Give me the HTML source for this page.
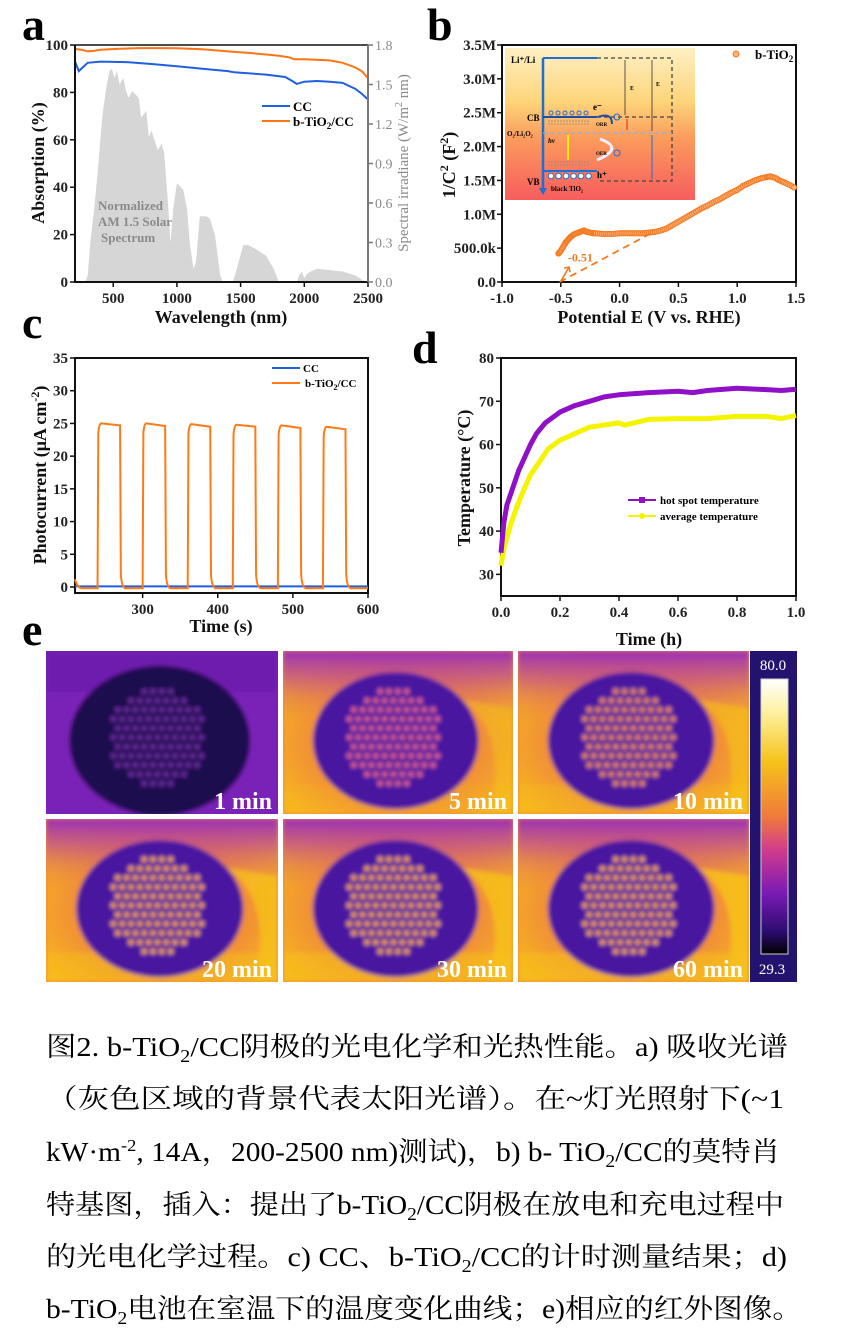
<!DOCTYPE html>
<html><head><meta charset="utf-8"><style>
html,body{margin:0;padding:0;background:#fff;}
svg{display:block;}
text{font-family:"Liberation Serif","Noto Serif CJK SC",serif;}
.cap{font-family:"Liberation Serif","Noto Serif CJK SC","Noto Sans CJK SC",serif;font-size:27px;fill:#000;}
.tk{font-size:15px;font-weight:bold;fill:#222;}
.tt{font-size:18px;font-weight:bold;fill:#111;}
.lt{font-size:46px;font-weight:bold;fill:#000;}
</style></head><body>
<svg id="fig" width="842" height="1342" viewBox="0 0 842 1342" xmlns="http://www.w3.org/2000/svg">
<defs>
<filter id="blurF" x="-5%" y="-5%" width="110%" height="110%"><feGaussianBlur stdDeviation="2.2"/></filter>
<linearGradient id="insetGrad" x1="0" y1="0" x2="0" y2="1">
<stop offset="0" stop-color="#fdf0c4"/><stop offset="0.35" stop-color="#fdd57a"/><stop offset="0.6" stop-color="#fb9a5c"/><stop offset="1" stop-color="#f75d5e"/></linearGradient>
<linearGradient id="cbarGrad" x1="0" y1="0" x2="0" y2="1">
<stop offset="0" stop-color="#ffffff"/><stop offset="0.12" stop-color="#fdf2a0"/><stop offset="0.3" stop-color="#f6c21a"/><stop offset="0.5" stop-color="#f07a3a"/><stop offset="0.62" stop-color="#d23c8c"/><stop offset="0.78" stop-color="#7a1ab5"/><stop offset="0.92" stop-color="#2a0c6e"/><stop offset="1" stop-color="#000000"/></linearGradient>
<radialGradient id="bgHot" cx="0.5" cy="0.55" r="0.75">
<stop offset="0.45" stop-color="#f08a3a"/><stop offset="0.8" stop-color="#f7b320"/><stop offset="1" stop-color="#f5c518"/></radialGradient>
<linearGradient id="topPurple" x1="0" y1="0" x2="0" y2="1">
<stop offset="0" stop-color="#9b2fb8"/><stop offset="0.4" stop-color="#b93ea0" stop-opacity="0.6"/><stop offset="1" stop-color="#f08a3a" stop-opacity="0"/></linearGradient>
</defs>
<g id="root"></g>

<g>
<text class="cap" x="46" y="1056" textLength="742" lengthAdjust="spacingAndGlyphs">图2. b-TiO<tspan dy="6" font-size="18">2</tspan><tspan dy="-6">/CC阴极的光电化学和光热性能。a) 吸收光谱</tspan></text>
<text class="cap" x="46" y="1108" textLength="738" lengthAdjust="spacingAndGlyphs">（灰色区域的背景代表太阳光谱）。在~灯光照射下(~1</text>
<text class="cap" x="46" y="1161" textLength="734" lengthAdjust="spacingAndGlyphs">kW·m<tspan dy="-10" font-size="17">-2</tspan><tspan dy="10">, 14A，200-2500 nm)测试)，b) b- TiO</tspan><tspan dy="6" font-size="18">2</tspan><tspan dy="-6">/CC的莫特肖</tspan></text>
<text class="cap" x="46" y="1214" textLength="738" lengthAdjust="spacingAndGlyphs">特基图，插入：提出了b-TiO<tspan dy="6" font-size="18">2</tspan><tspan dy="-6">/CC阴极在放电和充电过程中</tspan></text>
<text class="cap" x="46" y="1266" textLength="741" lengthAdjust="spacingAndGlyphs">的光电化学过程。c) CC、b-TiO<tspan dy="6" font-size="18">2</tspan><tspan dy="-6">/CC的计时测量结果；d)</tspan></text>
<text class="cap" x="46" y="1318" textLength="756" lengthAdjust="spacingAndGlyphs">b-TiO<tspan dy="6" font-size="18">2</tspan><tspan dy="-6">电池在室温下的温度变化曲线；e)相应的红外图像。</tspan></text>
</g>
</svg>
<script>
// ---------- Panel a data ----------
const aWaveCC = [200,215,230,260,300,400,600,800,1000,1200,1400,1450,1500,1700,1850,1900,1940,2000,2100,2200,2300,2400,2450,2500];
const aAbsCC  = [93,91,89,90.5,92.5,93,92.8,92,91,90,89,88.5,88.3,87.5,86.5,85,83.6,84.5,84.8,84.5,84,81.5,79.5,77];
const aWaveTi = [200,250,300,350,400,550,700,900,1000,1200,1400,1600,1800,1880,1920,2000,2200,2300,2350,2400,2450,2500];
const aAbsTi  = [98.3,98,97.3,97.5,98,98.4,98.7,98.7,98.6,98.2,97.3,96.5,95.5,94.8,94,94,93.5,92.5,91.5,90.5,89,86];
const aSolarWave = [280,300,320,350,380,400,420,450,470,490,510,530,550,580,600,620,650,700,720,760,780,800,850,880,900,930,950,970,1000,1050,1080,1100,1130,1150,1180,1230,1260,1300,1340,1360,1440,1470,1520,1560,1620,1700,1760,1800,1940,1960,1980,2000,2020,2050,2100,2200,2300,2400,2450,2480];
const aSolarIrr  = [0,0.05,0.3,0.55,0.85,1.1,1.3,1.5,1.6,1.62,1.55,1.6,1.5,1.55,1.45,1.4,1.45,1.4,1.25,1.3,1.1,1.15,1.0,1.05,0.98,0.6,0.3,0.55,0.75,0.7,0.55,0.3,0.1,0.15,0.5,0.5,0.48,0.35,0.05,0,0,0.1,0.28,0.28,0.25,0.2,0.1,0,0,0.05,0.08,0.03,0.06,0.08,0.1,0.09,0.08,0.05,0.02,0];
const aXTicks = [500,1000,1500,2000,2500];
const aYTicks = [0,20,40,60,80,100];
const aY2Ticks = ["0.0","0.3","0.6","0.9","1.2","1.5","1.8"];

// ---------- Panel b data ----------
const bPot = [-0.52,-0.5,-0.48,-0.46,-0.44,-0.42,-0.4,-0.38,-0.35,-0.32,-0.3,-0.28,-0.25,-0.22,-0.2,-0.15,-0.1,-0.05,0,0.05,0.1,0.15,0.2,0.25,0.3,0.35,0.4,0.45,0.5,0.55,0.6,0.65,0.7,0.75,0.8,0.85,0.9,0.95,1.0,1.05,1.1,1.15,1.2,1.25,1.28,1.32,1.36,1.4,1.45,1.5];
const bInv = [0.42,0.46,0.52,0.58,0.62,0.66,0.69,0.71,0.73,0.75,0.76,0.74,0.73,0.72,0.72,0.71,0.71,0.71,0.72,0.72,0.72,0.72,0.72,0.73,0.74,0.76,0.79,0.84,0.89,0.94,0.99,1.04,1.09,1.13,1.18,1.22,1.27,1.32,1.36,1.42,1.46,1.5,1.53,1.55,1.56,1.54,1.5,1.47,1.43,1.38];
const bYTicks = ["0.0","500.0k","1.0M","1.5M","2.0M","2.5M","3.0M","3.5M"];
const bXTicks = ["-1.0","-0.5","0.0","0.5","1.0","1.5"];
const bFlatband = [-0.51];

// ---------- Panel c data ----------
const cOnTimes = [240,300,360,420,480,540];
const cPulseLen = [30,30,30,30,30,30];
const cPeakStart = [25,25,24.9,24.8,24.7,24.5];
const cPeakEnd = [24.7,24.6,24.5,24.5,24.3,24.1];
const cDarkVal = [-0.2];
const cCCVal = [0.1];
const cYTicks = [0,5,10,15,20,25,30,35];
const cXTicks = [300,400,500,600];

// ---------- Panel d data ----------
const dTimeHot = [0,0.01,0.02,0.04,0.06,0.08,0.1,0.12,0.15,0.2,0.25,0.3,0.35,0.4,0.5,0.6,0.65,0.7,0.8,0.9,0.95,1.0];
const dTempHot = [35,42,46,50,54,57,60,62.5,65,67.5,69,70,71,71.5,72,72.3,72,72.5,73,72.7,72.5,72.8];
const dTimeAvg = [0,0.01,0.03,0.05,0.08,0.1,0.13,0.16,0.2,0.25,0.3,0.4,0.42,0.5,0.6,0.7,0.8,0.9,0.95,1.0];
const dTempAvg = [32,36,41,45,50,53,56,59,61,62.5,64,65,64.5,65.8,66,66,66.5,66.5,66,66.7];
const dYTicks = [30,40,50,60,70,80];
const dXTicks = ["0.0","0.2","0.4","0.6","0.8","1.0"];

// ---------- Panel e data ----------
const eLabels = ["1 min","5 min","10 min","20 min","30 min","60 min"];
const eHeat = [0,0.55,0.7,0.85,0.9,0.92];
const eScale = ["80.0","29.3"];

const NS = "http://www.w3.org/2000/svg";
const root = document.getElementById("root");
function mk(tag, attrs, parent, txt){
  const e = document.createElementNS(NS, tag);
  for (const k in attrs) e.setAttribute(k, attrs[k]);
  if (txt !== undefined) e.textContent = txt;
  (parent || root).appendChild(e);
  return e;
}
function lin(d0,d1,r0,r1){ return v => r0 + (v-d0)*(r1-r0)/(d1-d0); }
function pathOf(xs, ys, fx, fy){ return xs.map((v,i)=>(i?"L":"M")+fx(v).toFixed(1)+","+fy(ys[i]).toFixed(1)).join(""); }

// ================= Panel a =================
const ga = mk("g",{});


const axL=75, axR=368, ayT=45, ayB=282;
const ax = lin(200,2500,axL,axR), ay = lin(0,100,ayB,ayT), ay2 = lin(0,1.8,ayB,ayT);
let t = mk("text",{x:22,y:40,class:"lt"},ga,"a");


const solar = mk("path",{d:pathOf(aSolarWave,aSolarIrr,ax,ay2)+"Z",fill:"#d6d6d6"},ga);


const stxt = mk("text",{x:98,y:210,"font-size":"13","font-weight":"bold",fill:"#8a8a8a"},ga);


mk("tspan",{x:98,y:210},stxt,"Normalized");
mk("tspan",{x:98,y:226},stxt,"AM 1.5 Solar");
mk("tspan",{x:101,y:242},stxt,"Spectrum");
const lcc = mk("path",{d:pathOf(aWaveCC,aAbsCC,ax,ay),fill:"none",stroke:"#1f5fe0","stroke-width":"2"},ga);


const lti = mk("path",{d:pathOf(aWaveTi,aAbsTi,ax,ay),fill:"none",stroke:"#ff7415","stroke-width":"2"},ga);


let fr = mk("path",{d:`M${axL},${ayT}V${ayB}H${axR}`,fill:"none",stroke:"#111","stroke-width":"2"},ga);


mk("line",{x1:axL,y1:ayT,x2:axR,y2:ayT,stroke:"#111","stroke-width":"1.5"},ga);
let r2 = mk("line",{x1:axR,y1:ayT,x2:axR,y2:ayB,stroke:"#777","stroke-width":"2"},ga);


aXTicks.forEach(v=>{
  mk("line",{x1:ax(v),y1:ayB,x2:ax(v),y2:ayB+5,stroke:"#111","stroke-width":"1.5"},ga);
  const l = mk("text",{x:ax(v),y:303,class:"tk","text-anchor":"middle"},ga,v);
  
  
});
aYTicks.forEach(v=>{
  mk("line",{x1:axL-5,y1:ay(v),x2:axL,y2:ay(v),stroke:"#111","stroke-width":"1.5"},ga);
  const l = mk("text",{x:axL-7,y:ay(v)+5,class:"tk","text-anchor":"end"},ga,v);
  
  
});
aY2Ticks.forEach(s=>{
  const v=parseFloat(s);
  mk("line",{x1:axR,y1:ay2(v),x2:axR+5,y2:ay2(v),stroke:"#777","stroke-width":"1.5"},ga);
  const l = mk("text",{x:axR+7,y:ay2(v)+5,"font-size":"14",fill:"#8a8a8a"},ga,s);
  
  
});
t = mk("text",{x:221,y:323,class:"tt","text-anchor":"middle"},ga,"Wavelength (nm)");


t = mk("text",{x:0,y:0,class:"tt","text-anchor":"middle",transform:"translate(44,163) rotate(-90)"},ga,"Absorption (%)");


t = mk("text",{x:0,y:0,"font-size":"15","text-anchor":"middle",fill:"#8a8a8a",transform:"translate(408,163) rotate(-90)"},ga);


mk("tspan",{},t,"Spectral irradiane (W/m");
mk("tspan",{dy:"-6","font-size":"10"},t,"2");
mk("tspan",{dy:"6"},t," nm)");
let lg = mk("g",{},ga);


mk("line",{x1:262,y1:106,x2:290,y2:106,stroke:"#1f5fe0","stroke-width":"2"},lg);
mk("text",{x:293,y:111,"font-size":"13","font-weight":"bold"},lg,"CC");
mk("line",{x1:262,y1:121,x2:290,y2:121,stroke:"#ff7415","stroke-width":"2"},lg);
t = mk("text",{x:293,y:126,"font-size":"13","font-weight":"bold"},lg,"b-TiO");
mk("tspan",{dy:"3","font-size":"9"},t,"2");
mk("tspan",{dy:"-3"},t,"/CC");

// ================= Panel b =================
const gb = mk("g",{});


const bxL=502,bxR=796,byT=45,byB=282;
const bx = lin(-1,1.5,bxL,bxR), by = lin(0,3.5,byB,byT);
t = mk("text",{x:427,y:40,class:"lt"},gb,"b");


fr = mk("rect",{x:bxL,y:byT,width:bxR-bxL,height:byB-byT,fill:"none",stroke:"#111","stroke-width":"2"},gb);


bXTicks.forEach(s=>{
  const v=parseFloat(s);
  mk("line",{x1:bx(v),y1:byB,x2:bx(v),y2:byB+5,stroke:"#111","stroke-width":"1.5"},gb);
  const l = mk("text",{x:bx(v),y:303,class:"tk","text-anchor":"middle"},gb,s);
  
  
});
bYTicks.forEach((s,i)=>{
  const v=i*0.5;
  mk("line",{x1:bxL-5,y1:by(v),x2:bxL,y2:by(v),stroke:"#111","stroke-width":"1.5"},gb);
  const l = mk("text",{x:bxL-6,y:by(v)+5,class:"tk","text-anchor":"end"},gb,s);
  
  
});
const gi = mk("g",{},gb);


mk("rect",{x:505,y:48,width:190,height:152,fill:"url(#insetGrad)"},gi);
mk("path",{d:"M543,58V190",stroke:"#1f6fd0","stroke-width":"2.5",fill:"none"},gi);
mk("path",{d:"M539,188L543,195L547,188Z",fill:"#1f6fd0"},gi);
mk("path",{d:"M543,58H597",stroke:"#1f6fd0","stroke-width":"2"},gi);
mk("path",{d:"M597,58H672V181H597",stroke:"#444","stroke-width":"1.3","stroke-dasharray":"4,3",fill:"none"},gi);
mk("path",{d:"M543,117H597",stroke:"#1f4f9f","stroke-width":"2"},gi);
mk("path",{d:"M597,117H672",stroke:"#444","stroke-width":"1.3","stroke-dasharray":"4,3"},gi);
mk("path",{d:"M543,133H672",stroke:"#8fb0e0","stroke-width":"1.3","stroke-dasharray":"4,3"},gi);
mk("path",{d:"M548,121H590M548,124H590M548,162H590M548,165H590",stroke:"#888","stroke-width":"0.7","stroke-dasharray":"2,1"},gi);
mk("path",{d:"M543,171H597",stroke:"#1f6fd0","stroke-width":"2"},gi);
mk("path",{d:"M625,60V115",stroke:"#333","stroke-width":"0.8"},gi);
mk("path",{d:"M652,60V131",stroke:"#333","stroke-width":"0.8"},gi);
mk("path",{d:"M652,135V179",stroke:"#1f6fd0","stroke-width":"1"},gi);
mk("path",{d:"M627,119V130",stroke:"#e02020","stroke-width":"1"},gi);
mk("path",{d:"M568,160V135",stroke:"#ffee00","stroke-width":"2"},gi);
[0,1,2,3,4,5].forEach(i=>{
  mk("circle",{cx:551+i*7,cy:113,r:2,fill:"none",stroke:"#1f6fd0","stroke-width":"1"},gi);
  mk("circle",{cx:551+i*7.5,cy:176,r:2.8,fill:"#fff",stroke:"#1f6fd0","stroke-width":"1"},gi);
});
mk("path",{d:"M598,117Q612,112 612,124",stroke:"#1f4f9f","stroke-width":"2",fill:"none"},gi);
mk("path",{d:"M600,139Q625,148 597,160",stroke:"#eef","stroke-width":"3",fill:"none"},gi);
mk("circle",{cx:617,cy:117,r:3,fill:"none",stroke:"#1f6fd0","stroke-width":"1"},gi);
mk("circle",{cx:617,cy:153,r:3,fill:"none",stroke:"#1f6fd0","stroke-width":"1"},gi);
mk("text",{x:511,y:63,"font-size":"9","font-weight":"bold"},gi,"Li⁺/Li");
mk("text",{x:527,y:121,"font-size":"9","font-weight":"bold"},gi,"CB");
mk("text",{x:507,y:136,"font-size":"7","font-weight":"bold"},gi,"O₂/Li₂O₂");
mk("text",{x:527,y:185,"font-size":"9","font-weight":"bold"},gi,"VB");
mk("text",{x:551,y:191,"font-size":"7","font-weight":"bold"},gi,"black TiO₂");
mk("text",{x:593,y:110,"font-size":"9","font-weight":"bold"},gi,"e⁻");
mk("text",{x:597,y:178,"font-size":"9","font-weight":"bold"},gi,"h⁺");
mk("text",{x:548,y:143,"font-size":"7","font-style":"italic","font-weight":"bold"},gi,"hv");
mk("text",{x:596,y:126,"font-size":"5","font-weight":"bold"},gi,"ORR");
mk("text",{x:596,y:155,"font-size":"5","font-weight":"bold"},gi,"OER");
mk("text",{x:630,y:90,"font-size":"6","font-weight":"bold"},gi,"E");
mk("text",{x:656,y:86,"font-size":"6","font-weight":"bold"},gi,"E");
const gpts = mk("g",{},gb);


for(let i=0;i<bPot.length-1;i++){
  for(let k=0;k<3;k++){
    const f=k/3, v=bPot[i]+(bPot[i+1]-bPot[i])*f, w=bInv[i]+(bInv[i+1]-bInv[i])*f;
    const c = mk("circle",{cx:bx(v),cy:by(w),r:2.6,fill:"#fbb07a",stroke:"#f47a20","stroke-width":"1"},gpts);
    
    
  }
}
const fbl = mk("path",{d:`M${bx(bFlatband[0])},${by(0)}L${bx(0.3)},${by(0.75)}`,stroke:"#f47a20","stroke-width":"1.8","stroke-dasharray":"7,5",fill:"none"},gb);


mk("path",{d:`M${bx(-0.5)},${by(0.01)}L${bx(-0.43)},${by(0.22)}M${bx(-0.43)-5},${by(0.22)+1}L${bx(-0.43)},${by(0.22)}L${bx(-0.43)+1},${by(0.22)+5}`,stroke:"#f47a20","stroke-width":"1.6",fill:"none"},gb);
t = mk("text",{x:bx(-0.44),y:by(0.3),"font-size":"12","font-weight":"bold",fill:"#f47a20"},gb,"-0.51");


lg = mk("g",{},gb);


mk("circle",{cx:736,cy:54,r:3,fill:"#fbb07a",stroke:"#f47a20","stroke-width":"1"},lg);
t = mk("text",{x:755,y:59,"font-size":"13","font-weight":"bold"},lg,"b-TiO");
mk("tspan",{dy:"3","font-size":"9"},t,"2");
t = mk("text",{x:649,y:323,class:"tt","text-anchor":"middle"},gb,"Potential E (V vs. RHE)");


t = mk("text",{x:0,y:0,class:"tt","text-anchor":"middle",transform:"translate(455,165) rotate(-90)"},gb);


mk("tspan",{},t,"1/C");mk("tspan",{dy:"-7","font-size":"12"},t,"2");mk("tspan",{dy:"7"},t," (F");mk("tspan",{dy:"-7","font-size":"12"},t,"2");mk("tspan",{dy:"7"},t,")");

// ================= Panel c =================
const gc = mk("g",{});


const cxL=75,cxR=368,cyT=358,cyB=593;
const cx = lin(210,600,cxL,cxR), cy = lin(0,35,587,cyT);
t = mk("text",{x:22,y:338,class:"lt"},gc,"c");


fr = mk("rect",{x:cxL,y:cyT,width:cxR-cxL,height:cyB-cyT,fill:"none",stroke:"#111","stroke-width":"2"},gc);


cXTicks.forEach(v=>{
  mk("line",{x1:cx(v),y1:cyB,x2:cx(v),y2:cyB+5,stroke:"#111","stroke-width":"1.5"},gc);
  const l = mk("text",{x:cx(v),y:614,class:"tk","text-anchor":"middle"},gc,v);
  
  
});
cYTicks.forEach(v=>{
  mk("line",{x1:cxL-5,y1:cy(v),x2:cxL,y2:cy(v),stroke:"#111","stroke-width":"1.5"},gc);
  const l = mk("text",{x:cxL-7,y:cy(v)+5,class:"tk","text-anchor":"end"},gc,v);
  
  
});
const ccl = mk("path",{d:`M${cx(210)},${cy(cCCVal[0])}H${cx(600)}`,stroke:"#1f5fe0","stroke-width":"2"},gc);


let dC = `M${cx(210)},${cy(1.2)}Q${cx(213)},${cy(cDarkVal[0])} ${cx(220)},${cy(cDarkVal[0])}`;
cOnTimes.forEach((t0,i)=>{
  const t1=t0+cPulseLen[i];
  dC += `L${cx(t0)},${cy(cDarkVal[0])}L${cx(t0+1)},${cy(cPeakStart[i]-1.5)}Q${cx(t0+2)},${cy(cPeakStart[i])} ${cx(t0+5)},${cy(cPeakStart[i])}L${cx(t1)},${cy(cPeakEnd[i])}L${cx(t1+1)},${cy(2)}Q${cx(t1+2)},${cy(cDarkVal[0])} ${cx(t1+8)},${cy(cDarkVal[0])}`;
});
dC += `L${cx(600)},${cy(cDarkVal[0])}`;
const tip = mk("path",{d:dC,fill:"none",stroke:"#ff7a15","stroke-width":"2"},gc);


lg = mk("g",{},gc);


mk("line",{x1:272,y1:368,x2:300,y2:368,stroke:"#1f5fe0","stroke-width":"2"},lg);
mk("text",{x:303,y:372,"font-size":"11","font-weight":"bold"},lg,"CC");
mk("line",{x1:272,y1:383,x2:300,y2:383,stroke:"#ff7a15","stroke-width":"2"},lg);
t = mk("text",{x:305,y:387,"font-size":"11","font-weight":"bold"},lg,"b-TiO");
mk("tspan",{dy:"3","font-size":"8"},t,"2");
mk("tspan",{dy:"-3"},t,"/CC");
t = mk("text",{x:221,y:632,class:"tt","text-anchor":"middle"},gc,"Time (s)");


t = mk("text",{x:0,y:0,class:"tt","text-anchor":"middle",transform:"translate(46,475) rotate(-90)"},gc);


mk("tspan",{},t,"Photocurrent (μA cm");mk("tspan",{dy:"-7","font-size":"12"},t,"-2");mk("tspan",{dy:"7"},t,")");

// ================= Panel d =================
const gd = mk("g",{});


const dxL=501,dxR=796,dyT=358,dyB=596;
const dx = lin(0,1,dxL,dxR), dy = lin(25,80,dyB,dyT);
t = mk("text",{x:412,y:363,class:"lt"},gd,"d");


fr = mk("rect",{x:dxL,y:dyT,width:dxR-dxL,height:dyB-dyT,fill:"none",stroke:"#111","stroke-width":"2"},gd);


dXTicks.forEach(s=>{
  const v=parseFloat(s);
  mk("line",{x1:dx(v),y1:dyB,x2:dx(v),y2:dyB+5,stroke:"#111","stroke-width":"1.5"},gd);
  const l = mk("text",{x:dx(v),y:617,class:"tk","text-anchor":"middle"},gd,s);
  
  
});
dYTicks.forEach(v=>{
  mk("line",{x1:dxL-5,y1:dy(v),x2:dxL,y2:dy(v),stroke:"#111","stroke-width":"1.5"},gd);
  const l = mk("text",{x:dxL-7,y:dy(v)+5,class:"tk","text-anchor":"end"},gd,v);
  
  
});
const avgL = mk("path",{d:pathOf(dTimeAvg,dTempAvg,dx,dy),fill:"none",stroke:"#f4f400","stroke-width":"5","stroke-linejoin":"round"},gd);


const hotL = mk("path",{d:pathOf(dTimeHot,dTempHot,dx,dy),fill:"none",stroke:"#9010c8","stroke-width":"5","stroke-linejoin":"round"},gd);


lg = mk("g",{},gd);


mk("line",{x1:628,y1:500,x2:656,y2:500,stroke:"#9010c8","stroke-width":"2"},lg);
mk("rect",{x:639,y:497,width:6,height:6,fill:"#9010c8"},lg);
mk("text",{x:660,y:504,"font-size":"11","font-weight":"bold"},lg,"hot spot temperature");
mk("line",{x1:628,y1:516,x2:656,y2:516,stroke:"#f4f400","stroke-width":"2"},lg);
mk("circle",{cx:642,cy:516,r:3,fill:"#f4f400"},lg);
mk("text",{x:660,y:520,"font-size":"11","font-weight":"bold"},lg,"average temperature");
t = mk("text",{x:649,y:645,class:"tt","text-anchor":"middle"},gd,"Time (h)");


t = mk("text",{x:0,y:0,class:"tt","text-anchor":"middle",transform:"translate(470,478) rotate(-90)"},gd,"Temperature (°C)");



// ================= Panel e =================
const ge = mk("g",{});


t = mk("text",{x:22,y:645,class:"lt"},ge,"e");


const tileX=[46,283,518], tileY=[651,819], tileW=[232,230,231], tileH=163;
eLabels.forEach((lab,i)=>{
  const x0=tileX[i%3], y0=tileY[Math.floor(i/3)], w=tileW[i%3], h=tileH, heat=eHeat[i];
  const g = mk("g",{},ge);
  
  
  const cid="clip"+i;
  const cp = mk("clipPath",{id:cid},g);
  mk("rect",{x:x0,y:y0,width:w,height:h},cp);
  const gc0 = mk("g",{"clip-path":`url(#${cid})`},g);
  mk("rect",{x:x0,y:y0,width:w,height:h,fill:heat<0.3?"#7a22b8":"#f08a3a"},gc0);
  const gg = mk("g",{filter:"url(#blurF)"},gc0);
  if(heat<0.3){
    mk("rect",{x:x0,y:y0,width:w,height:h,fill:"#7a22b8"},gg);
    mk("rect",{x:x0,y:y0,width:w,height:h*0.25,fill:"#6a1aa8",opacity:"0.7"},gg);
  } else {
    mk("rect",{x:x0,y:y0,width:w,height:h,fill:"url(#bgHot)"},gg);
    mk("rect",{x:x0,y:y0,width:w,height:h*0.45,fill:"url(#topPurple)"},gg);
    mk("path",{d:`M${x0+w*0.78},${y0+h*0.3}Q${x0+w*0.98},${y0+h*0.5} ${x0+w*0.9},${y0+h}L${x0+w},${y0+h}L${x0+w},${y0+h*0.35}Z`,fill:"#f6c21a",opacity:(heat*0.9).toFixed(2)},gg);
    mk("rect",{x:x0,y:y0+h*0.82,width:w,height:h*0.18,fill:"#f6c21a",opacity:(heat-0.4).toFixed(2)},gg);
  }
  const rx = heat<0.3? w*0.39 : w*0.36, ry = heat<0.3? h*0.46 : h*0.42;
  mk("ellipse",{cx:x0+w*0.49,cy:y0+h*0.55,rx:rx,ry:ry,fill:heat<0.3?"#1c0a50":"#4a12a0"},gg);
  const ccx=x0+w*0.48, ccy=y0+h*0.53, R=h*0.3;
  const dotCol = heat<0.3?"#6a2aa0":(heat<0.6?"#e0608a":(heat<0.8?"#f08a40":"#f7a030"));
  for(let r=-5;r<=5;r++){
    for(let c=-6;c<=6;c++){
      const px=ccx+c*8.8+(r%2?4.4:0), py=ccy+r*9.2;
      if((px-ccx)**2+(py-ccy)**2<R*R){
        mk("circle",{cx:px.toFixed(1),cy:py.toFixed(1),r:3,fill:dotCol},gg);
      }
    }
  }
  const lt = mk("text",{x:x0+w-6,y:y0+h-5,"font-size":"24","font-weight":"bold",fill:"#fff","text-anchor":"end"},g,lab);
  
  
});
const cb = mk("g",{},ge);


mk("rect",{x:750,y:651,width:47,height:331,fill:"#24136e"},cb);
mk("rect",{x:761,y:679,width:27,height:275,fill:"url(#cbarGrad)",stroke:"#ccc","stroke-width":"1"},cb);
t = mk("text",{x:773,y:670,"font-size":"15","font-family":"Liberation Mono, monospace",fill:"#fff","text-anchor":"middle"},cb,eScale[0]);


t = mk("text",{x:772,y:974,"font-size":"15","font-family":"Liberation Mono, monospace",fill:"#fff","text-anchor":"middle"},cb,eScale[1]);


</script>
</body></html>
